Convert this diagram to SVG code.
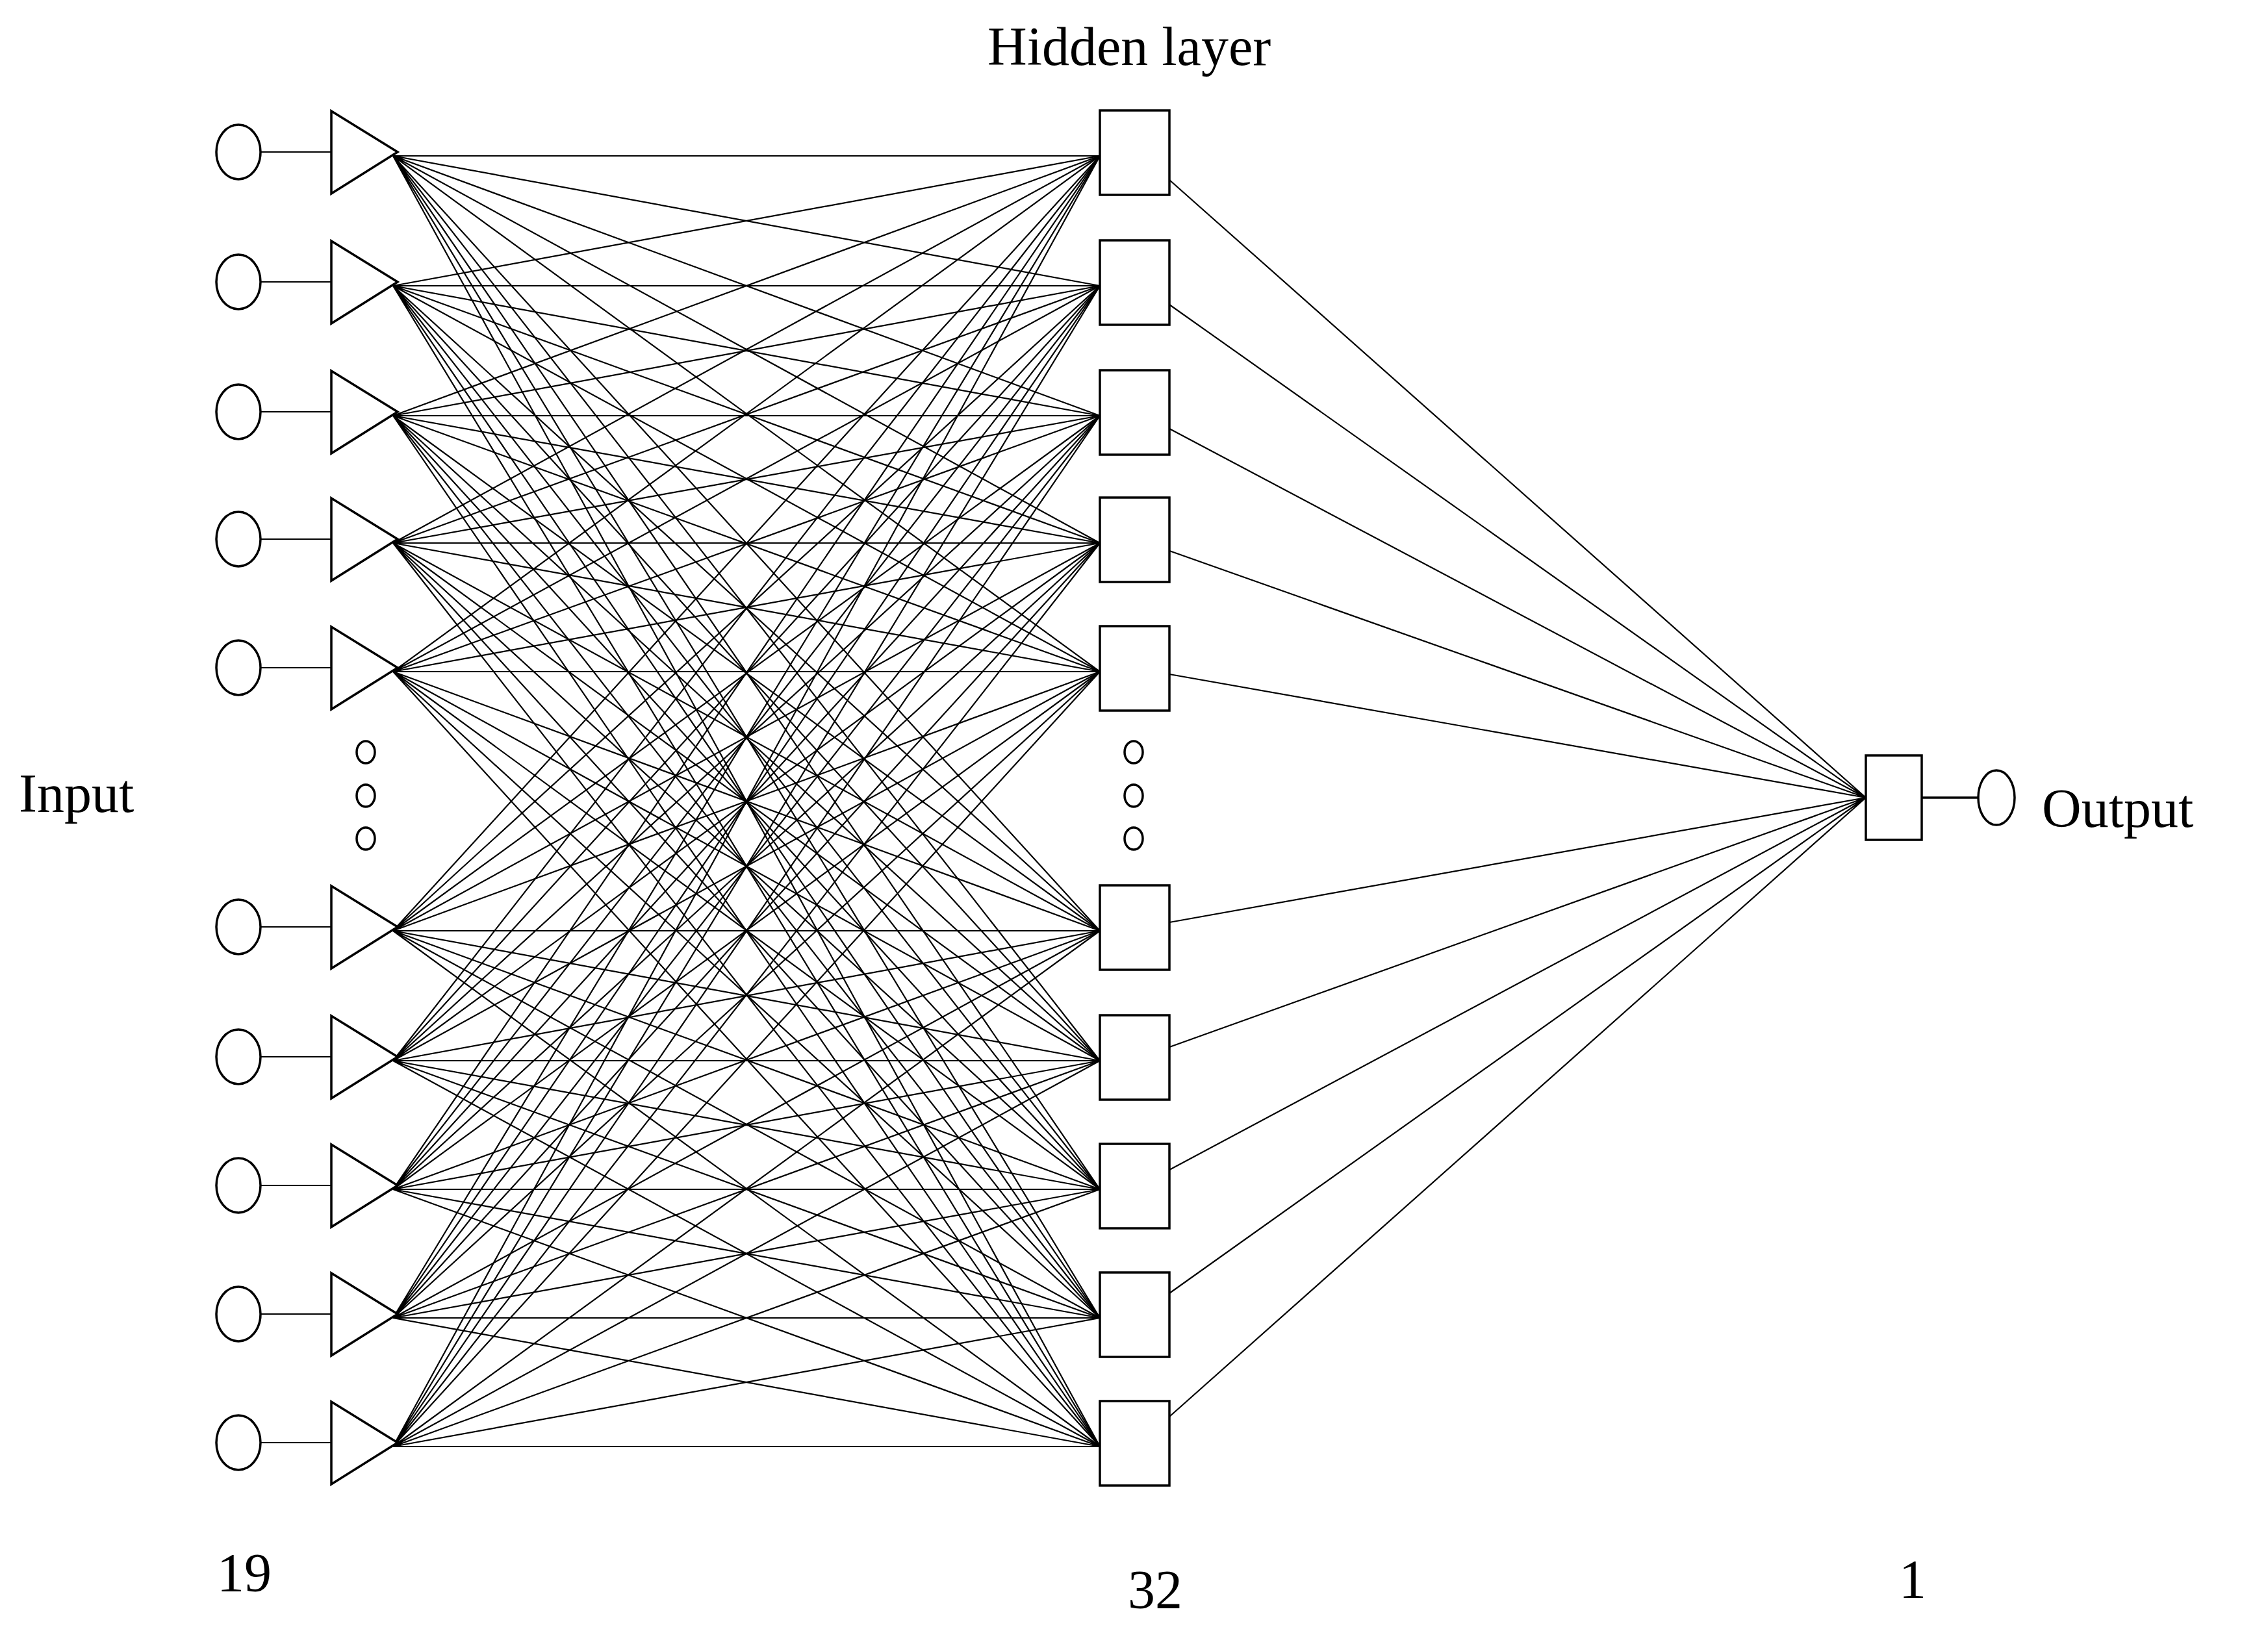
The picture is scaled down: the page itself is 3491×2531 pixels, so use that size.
<svg xmlns="http://www.w3.org/2000/svg" width="3491" height="2531" viewBox="0 0 3491 2531">
<style>
.s{fill:#fff;stroke:#000;stroke-width:3.5}
.c{fill:none;stroke:#000;stroke-width:2.2}
.t{font-family:"Liberation Serif",serif;font-size:84px;fill:#000}
</style>
<defs>
<g id="inp"><ellipse class="s" cx="367" cy="0" rx="34" ry="42"/><line class="c" x1="401" y1="0" x2="510" y2="0" stroke-width="3.5"/><polygon class="s" points="510,-63 612,0 510,64"/></g>
<rect id="hid" class="s" x="1693" y="-64" width="107" height="130"/>
</defs>
<g id="connectors" class="c">
<path d="M605 240L1693 240M605 240L1693 440M605 240L1693 640M605 240L1693 836M605 240L1693 1034M605 240L1693 1433M605 240L1693 1633M605 240L1693 1831M605 240L1693 2029M605 240L1693 2227"/>
<path d="M605 440L1693 240M605 440L1693 440M605 440L1693 640M605 440L1693 836M605 440L1693 1034M605 440L1693 1433M605 440L1693 1633M605 440L1693 1831M605 440L1693 2029M605 440L1693 2227"/>
<path d="M605 640L1693 240M605 640L1693 440M605 640L1693 640M605 640L1693 836M605 640L1693 1034M605 640L1693 1433M605 640L1693 1633M605 640L1693 1831M605 640L1693 2029M605 640L1693 2227"/>
<path d="M605 836L1693 240M605 836L1693 440M605 836L1693 640M605 836L1693 836M605 836L1693 1034M605 836L1693 1433M605 836L1693 1633M605 836L1693 1831M605 836L1693 2029M605 836L1693 2227"/>
<path d="M605 1034L1693 240M605 1034L1693 440M605 1034L1693 640M605 1034L1693 836M605 1034L1693 1034M605 1034L1693 1433M605 1034L1693 1633M605 1034L1693 1831M605 1034L1693 2029M605 1034L1693 2227"/>
<path d="M605 1433L1693 240M605 1433L1693 440M605 1433L1693 640M605 1433L1693 836M605 1433L1693 1034M605 1433L1693 1433M605 1433L1693 1633M605 1433L1693 1831M605 1433L1693 2029M605 1433L1693 2227"/>
<path d="M605 1633L1693 240M605 1633L1693 440M605 1633L1693 640M605 1633L1693 836M605 1633L1693 1034M605 1633L1693 1433M605 1633L1693 1633M605 1633L1693 1831M605 1633L1693 2029M605 1633L1693 2227"/>
<path d="M605 1831L1693 240M605 1831L1693 440M605 1831L1693 640M605 1831L1693 836M605 1831L1693 1034M605 1831L1693 1433M605 1831L1693 1633M605 1831L1693 1831M605 1831L1693 2029M605 1831L1693 2227"/>
<path d="M605 2029L1693 240M605 2029L1693 440M605 2029L1693 640M605 2029L1693 836M605 2029L1693 1034M605 2029L1693 1433M605 2029L1693 1633M605 2029L1693 1831M605 2029L1693 2029M605 2029L1693 2227"/>
<path d="M605 2227L1693 240M605 2227L1693 440M605 2227L1693 640M605 2227L1693 836M605 2227L1693 1034M605 2227L1693 1433M605 2227L1693 1633M605 2227L1693 1831M605 2227L1693 2029M605 2227L1693 2227"/>
<path d="M1800 277L2872 1228M1800 469L2872 1228M1800 660L2872 1228M1800 848L2872 1228M1800 1038L2872 1228M1800 1420L2872 1228M1800 1612L2872 1228M1800 1801L2872 1228M1800 1991L2872 1228M1800 2181L2872 1228"/>
<line x1="2958" y1="1228" x2="3045" y2="1228" stroke-width="3.5"/>
</g>
<g id="in1"><use href="#inp" y="234"/></g>
<g id="in2"><use href="#inp" y="434"/></g>
<g id="in3"><use href="#inp" y="634"/></g>
<g id="in4"><use href="#inp" y="830"/></g>
<g id="in5"><use href="#inp" y="1028"/></g>
<g id="in6"><use href="#inp" y="1427"/></g>
<g id="in7"><use href="#inp" y="1627"/></g>
<g id="in8"><use href="#inp" y="1825"/></g>
<g id="in9"><use href="#inp" y="2023"/></g>
<g id="in10"><use href="#inp" y="2221"/></g>
<g id="indots" class="s" stroke-width="2.5"><ellipse cx="563" cy="1158" rx="14" ry="17"/><ellipse cx="563" cy="1225" rx="14" ry="17"/><ellipse cx="563" cy="1291" rx="14" ry="17"/></g>
<g id="h1"><use href="#hid" y="234"/></g>
<g id="h2"><use href="#hid" y="434"/></g>
<g id="h3"><use href="#hid" y="634"/></g>
<g id="h4"><use href="#hid" y="830"/></g>
<g id="h5"><use href="#hid" y="1028"/></g>
<g id="h6"><use href="#hid" y="1427"/></g>
<g id="h7"><use href="#hid" y="1627"/></g>
<g id="h8"><use href="#hid" y="1825"/></g>
<g id="h9"><use href="#hid" y="2023"/></g>
<g id="h10"><use href="#hid" y="2221"/></g>
<g id="hdots" class="s" stroke-width="2.5"><ellipse cx="1745" cy="1158" rx="14" ry="17"/><ellipse cx="1745" cy="1225" rx="14" ry="17"/><ellipse cx="1745" cy="1291" rx="14" ry="17"/></g>
<g id="out"><rect class="s" x="2872" y="1163" width="86" height="130"/><ellipse class="s" cx="3073" cy="1228" rx="28" ry="42"/></g>
<g id="labels" class="t">
<text x="1520" y="100">Hidden layer</text>
<text x="29" y="1250">Input</text>
<text x="3143" y="1273">Output</text>
<text x="334" y="2450">19</text>
<text x="1736" y="2476">32</text>
<text x="2923" y="2460">1</text>
</g>
</svg>
